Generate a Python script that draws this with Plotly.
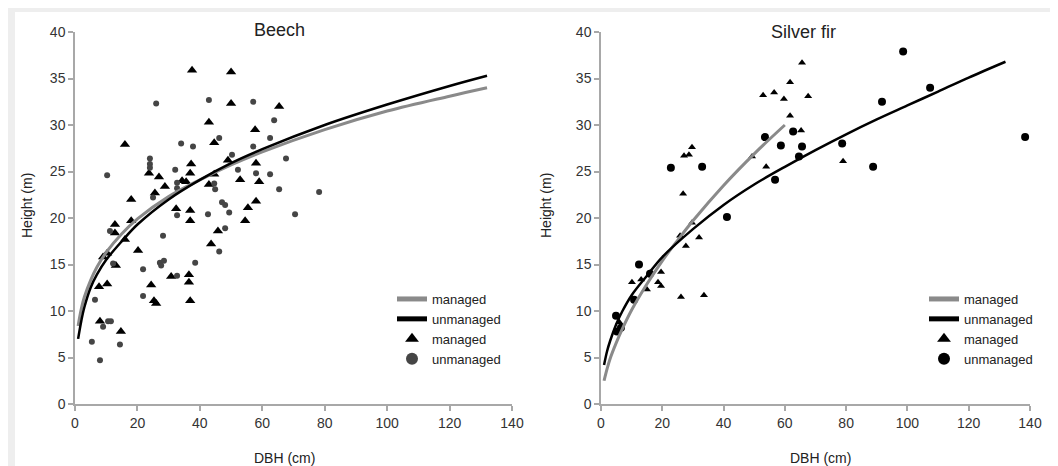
import plotly.graph_objects as go

# ---------------- data ----------------
# Beech, managed (triangles)
beech_man_dbh = [37.5, 50, 50, 42.9, 44.6, 16, 49, 52.9, 37.2, 36.9, 23.7, 26.9, 28.8, 25.6, 34.3, 35.6,
                 44.6, 42.9, 18, 32.4, 36.9, 36.9, 45.8, 54.5, 55.4, 12.8, 18, 12.8, 16, 20.2, 10.3, 9.0,
                 13.1, 7.7, 10.3, 24.4, 25.3, 26, 30.8, 36.5, 36.5, 36.9, 8.0, 14.7, 43.6, 65.4, 57.7, 58,
                 59, 58]
beech_man_h = [35.9, 35.7, 32.3, 30.3, 28.1, 27.9, 26.2, 24.1, 25.8, 24.8, 24.8, 24.4, 23.4, 22.7, 24.0, 23.9,
               24.7, 23.6, 22.0, 21.0, 20.8, 19.7, 18.6, 19.7, 21.1, 19.3, 19.7, 18.4, 17.7, 16.5, 16.2, 15.8,
               14.9, 12.6, 12.9, 12.8, 11.1, 10.8, 13.7, 13.9, 13.1, 11.1, 8.9, 7.8, 17.2, 32.0, 29.5, 25.9,
               23.9, 21.8]
# Beech, unmanaged (circles)
beech_unm_dbh = [26, 42.9, 46.2, 34, 37.8, 50.3, 52.2, 24, 24, 24, 32.1, 10.3, 32.7, 32.7, 44.6, 44.9,
                 47.1, 48.1, 49.4, 42.6, 32.7, 25, 48.1, 28.2, 11.2, 46.2, 38.5, 27.2, 28.5, 27.6, 32.7, 21.8,
                 21.8, 12.2, 6.4, 10.6, 11.5, 9.0, 5.4, 14.4, 8.0, 57.1, 63.8, 62.5, 57.1, 67.6, 58, 62.5,
                 65.4, 78.2, 70.5]
beech_unm_h = [32.3, 32.7, 28.6, 28.0, 27.7, 26.8, 25.2, 26.4, 25.8, 25.4, 25.2, 24.6, 23.8, 23.2, 23.7, 23.1,
               21.7, 21.4, 20.6, 20.4, 20.3, 22.2, 18.9, 18.1, 18.6, 16.4, 15.2, 15.2, 15.4, 14.9, 13.8, 14.5,
               11.6, 15.1, 11.2, 8.9, 8.9, 8.3, 6.7, 6.4, 4.7, 32.5, 30.5, 28.6, 27.7, 26.4, 24.8, 24.7,
               23.1, 22.8, 20.4]
# Beech fitted curves
beech_fit_dbh = [1, 2, 3, 5, 7, 10, 15, 20, 30, 40, 50, 60, 80, 100, 120, 132]
beech_fit_man = [8.4, 10.2, 11.5, 13.3, 14.7, 16.3, 18.3, 19.9, 22.3, 24.1, 25.7, 27.1, 29.5, 31.5, 33.1, 34.0]
beech_fit_unm = [7.0, 8.9, 10.4, 12.5, 13.9, 15.5, 17.5, 19.3, 22.0, 24.1, 25.9, 27.4, 30.0, 32.2, 34.2, 35.3]

# Silver fir, managed (triangles)
fir_man_dbh = [10.1, 13.1, 15.0, 16, 18.6, 19.6, 19.6, 26.1, 33.6, 27.7, 32, 25.8, 29.7, 26.8, 27.1, 28.7,
               29.7, 52.9, 49.3, 53.9, 56.5, 59.7, 61.7, 65.6, 67.6, 61.7, 65.3, 79, 6]
fir_man_h = [13.1, 13.4, 12.3, 14.1, 13.1, 14.2, 12.7, 11.5, 11.7, 17.0, 17.9, 18.1, 19.5, 22.6, 26.7, 26.8,
             27.6, 33.2, 26.6, 25.5, 33.5, 32.8, 34.6, 36.7, 33.1, 31.0, 29.4, 26.1, 8.8]
# Silver fir, unmanaged (circles)
fir_unm_dbh = [4.9, 5.2, 6.5, 10.8, 12.4, 16, 41.1, 22.8, 33, 53.5, 58.7, 56.8, 62.7, 65.6, 64.6, 78.7,
               88.8, 91.7, 98.6, 107.4, 138.4]
fir_unm_h = [9.5, 7.8, 8.2, 11.2, 15.0, 14.0, 20.1, 25.4, 25.5, 28.7, 27.8, 24.1, 29.3, 27.7, 26.6, 28.0,
             25.5, 32.5, 37.9, 34.0, 28.7]
# Silver fir fitted curves
fir_fit_man_dbh = [1, 2, 3, 5, 7, 10, 15, 20, 25, 30, 40, 50, 60]
fir_fit_man = [2.5, 3.8, 4.9, 6.6, 8.1, 10.1, 12.9, 15.4, 17.6, 19.7, 23.5, 26.9, 30.0]
fir_fit_unm_dbh = [1, 2, 3, 5, 7, 10, 15, 20, 30, 40, 50, 60, 70, 80, 90, 100, 110, 120, 132]
fir_fit_unm = [4.2, 5.7, 6.8, 8.6, 10.0, 11.7, 13.8, 15.8, 18.8, 21.4, 23.6, 25.5, 27.3, 29.0, 30.6,
               32.1, 33.6, 35.1, 36.8]

titles = ["Beech", "Silver fir"]
x_title = "DBH (cm)"
y_title = "Height (m)"
legend_names = ["managed", "unmanaged", "managed", "unmanaged"]

# ---------------- figure ----------------
W, H = 1058, 466
FONT = "Liberation Sans, Arial, sans-serif"
GRAY_LINE = "#8a8a8a"
AXIS_COL = "#a8a8a8"

fig = go.Figure()

panels = [
    dict(xa="x", ya="y", leg="legend", man=(beech_man_dbh, beech_man_h), unm=(beech_unm_dbh, beech_unm_h),
         fman=(beech_fit_dbh, beech_fit_man), funm=(beech_fit_dbh, beech_fit_unm),
         tri=9, circ=6, circ_col="#454545", tri_col="#000000"),
    dict(xa="x2", ya="y2", leg="legend2", man=(fir_man_dbh, fir_man_h), unm=(fir_unm_dbh, fir_unm_h),
         fman=(fir_fit_man_dbh, fir_fit_man), funm=(fir_fit_unm_dbh, fir_fit_unm),
         tri=7, circ=8, circ_col="#000000", tri_col="#000000"),
]

for p in panels:
    fig.add_trace(go.Scatter(x=p["man"][0], y=p["man"][1], mode="markers", name=legend_names[2],
                             xaxis=p["xa"], yaxis=p["ya"], legend=p["leg"], legendrank=3,
                             marker=dict(symbol="triangle-up", size=p["tri"], color=p["tri_col"])))
    fig.add_trace(go.Scatter(x=p["unm"][0], y=p["unm"][1], mode="markers", name=legend_names[3],
                             xaxis=p["xa"], yaxis=p["ya"], legend=p["leg"], legendrank=4,
                             marker=dict(symbol="circle", size=p["circ"], color=p["circ_col"])))
    fig.add_trace(go.Scatter(x=p["fman"][0], y=p["fman"][1], mode="lines", name=legend_names[0],
                             xaxis=p["xa"], yaxis=p["ya"], legend=p["leg"], legendrank=1,
                             line=dict(color=GRAY_LINE, width=3, shape="spline", smoothing=1.0)))
    fig.add_trace(go.Scatter(x=p["funm"][0], y=p["funm"][1], mode="lines", name=legend_names[1],
                             xaxis=p["xa"], yaxis=p["ya"], legend=p["leg"], legendrank=2,
                             line=dict(color="#000000", width=2.5, shape="spline", smoothing=1.0)))

def px_x(v):
    return v / W

def px_y(v):
    return (H - v) / H

ydom = [px_y(396), px_y(24)]
axis_common = dict(showline=True, linecolor=AXIS_COL, linewidth=1.5, ticks="outside", ticklen=5,
                   tickcolor=AXIS_COL, tickwidth=1.5, showgrid=False, zeroline=False, automargin=False,
                   tickfont=dict(family=FONT, size=14, color="#333333"), fixedrange=True)

legend_common = dict(font=dict(family=FONT, size=13, color="#222222"), bgcolor="rgba(0,0,0,0)",
                     xanchor="left", yanchor="top", traceorder="normal", itemsizing="constant",
                     tracegroupgap=0)

fig.update_layout(
    width=W, height=H,
    margin=dict(l=0, r=0, t=0, b=0, autoexpand=False),
    paper_bgcolor="#eeeeee",
    plot_bgcolor="rgba(0,0,0,0)",
    font=dict(family=FONT, size=14, color="#222222"),
    xaxis=dict(domain=[px_x(67), px_x(504)], range=[0, 140], dtick=20, anchor="y", **axis_common),
    yaxis=dict(domain=ydom, range=[0, 40], dtick=5, anchor="x", **axis_common),
    xaxis2=dict(domain=[px_x(593), px_x(1022)], range=[0, 140], dtick=20, anchor="y2", **axis_common),
    yaxis2=dict(domain=ydom, range=[0, 40], dtick=5, anchor="x2", **axis_common),
    legend=dict(x=px_x(384), y=px_y(276), **legend_common),
    legend2=dict(x=px_x(916), y=px_y(276), **legend_common),
    showlegend=True,
    shapes=[dict(type="rect", xref="paper", yref="paper", x0=px_x(7), x1=px_x(1043),
                 y0=px_y(459), y1=px_y(4), fillcolor="#ffffff", line=dict(width=0), layer="below")],
    annotations=[
        dict(text=titles[0], xref="paper", yref="paper", x=px_x(271), y=px_y(22), showarrow=False,
             font=dict(family=FONT, size=18, color="#222222"), xanchor="center", yanchor="middle"),
        dict(text=titles[1], xref="paper", yref="paper", x=px_x(795), y=px_y(24), showarrow=False,
             font=dict(family=FONT, size=18, color="#222222"), xanchor="center", yanchor="middle"),
        dict(text=x_title, xref="paper", yref="paper", x=px_x(276), y=px_y(450), showarrow=False,
             font=dict(family=FONT, size=14, color="#222222"), xanchor="center", yanchor="middle"),
        dict(text=x_title, xref="paper", yref="paper", x=px_x(812), y=px_y(450), showarrow=False,
             font=dict(family=FONT, size=14, color="#222222"), xanchor="center", yanchor="middle"),
        dict(text=y_title, xref="paper", yref="paper", x=px_x(19), y=px_y(198), showarrow=False,
             textangle=-90, font=dict(family=FONT, size=14, color="#222222"),
             xanchor="center", yanchor="middle"),
        dict(text=y_title, xref="paper", yref="paper", x=px_x(538), y=px_y(198), showarrow=False,
             textangle=-90, font=dict(family=FONT, size=14, color="#222222"),
             xanchor="center", yanchor="middle"),
    ],
)

fig.write_html("out.html", config=dict(displayModeBar=False))
